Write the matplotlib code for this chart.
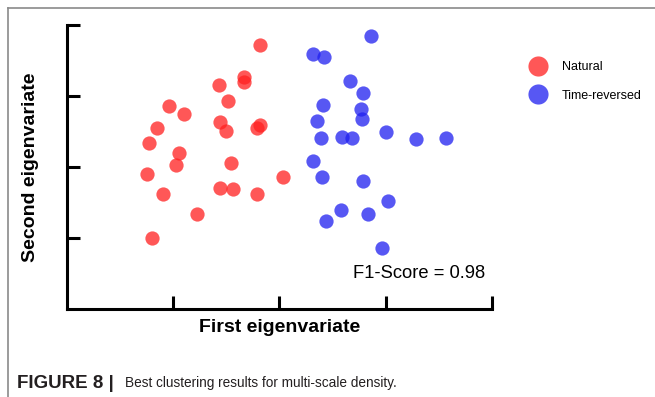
import numpy as np
import matplotlib
matplotlib.use("Agg")
from matplotlib import pyplot as plt
from matplotlib.lines import Line2D

plt.rcParams['font.family'] = ['Liberation Sans', 'DejaVu Sans']

# data
natural_x = [1.82, 1.67, 1.67, 1.43, 1.52, 0.96, 1.10, 1.44, 1.50, 1.82, 1.79, 0.85,
             0.77, 1.05, 1.03, 1.54, 0.75, 2.03, 0.90, 1.44, 1.56, 1.79, 1.22, 0.80]
natural_y = [3.72, 3.27, 3.19, 3.16, 2.93, 2.86, 2.75, 2.63, 2.50, 2.59, 2.54, 2.55,
             2.34, 2.19, 2.02, 2.06, 1.90, 1.86, 1.62, 1.70, 1.68, 1.62, 1.34, 1.00]
reversed_x = [2.86, 2.32, 2.42, 2.66, 2.79, 2.41, 2.77, 2.78, 2.35, 3.00, 2.39, 2.59,
              2.68, 3.29, 3.57, 2.32, 2.40, 2.79, 3.02, 2.58, 2.83, 2.44, 2.97]
reversed_y = [3.84, 3.59, 3.55, 3.21, 3.04, 2.87, 2.81, 2.67, 2.64, 2.49, 2.41, 2.42,
              2.40, 2.39, 2.40, 2.08, 1.86, 1.80, 1.51, 1.39, 1.34, 1.24, 0.86]
labels = ['Natural', 'Time-reversed']
score_text = 'F1-Score = 0.98'

red = '#ff1f1f'
blue = '#1f1ff0'

fig = plt.figure(figsize=(6.55, 3.97), dpi=100)
ax = fig.add_axes([0.1023, 0.2229, 0.6487, 0.7141])

ax.scatter(natural_x, natural_y, s=105, color=red, alpha=0.75, linewidths=0, clip_on=False)
ax.scatter(reversed_x, reversed_y, s=105, color=blue, alpha=0.75, linewidths=0, clip_on=False)

ax.set_xlim(0, 4)
ax.set_ylim(0, 4)
ax.set_xticks([1, 2, 3, 4])
ax.set_yticks([1, 2, 3, 4])
ax.set_xticklabels([])
ax.set_yticklabels([])
ax.tick_params(direction='in', length=9.5, width=2.2, color='black')
for s in ['top', 'right']:
    ax.spines[s].set_visible(False)
for s in ['left', 'bottom']:
    ax.spines[s].set_linewidth(2.2)
    ax.spines[s].set_capstyle('projecting')

ax.set_xlabel('First eigenvariate', fontsize=14, fontweight='bold', labelpad=4)
ax.set_ylabel('Second eigenvariate', fontsize=14, fontweight='bold', labelpad=17)
ax.text(3.94, 0.50, score_text, fontsize=13.2, ha='right', va='center')

handles = [Line2D([], [], marker='o', linestyle='', markersize=14.5, color=red, alpha=0.75, markeredgewidth=0),
           Line2D([], [], marker='o', linestyle='', markersize=14.5, color=blue, alpha=0.75, markeredgewidth=0)]
fig.legend(handles, labels, loc='upper left', bbox_to_anchor=(0.795, 0.858), frameon=False,
           fontsize=9, handletextpad=0.9, labelspacing=1.3, borderaxespad=0)

# caption
fig.text(0.026, 0.022, 'FIGURE 8 |', fontsize=13.5, fontweight='bold', color='#231f20')
fig.text(0.191, 0.024, 'Best clustering results for multi-scale density.', fontsize=9.8,
         color='#231f20')

# gray frame
fig.add_artist(Line2D([0.012, 0.012], [0, 0.981], color='#8a8a8a', lw=1.2, transform=fig.transFigure))
fig.add_artist(Line2D([0.012, 1.0], [0.981, 0.981], color='#8a8a8a', lw=1.2, transform=fig.transFigure))

fig.savefig('out.png', dpi=100)
